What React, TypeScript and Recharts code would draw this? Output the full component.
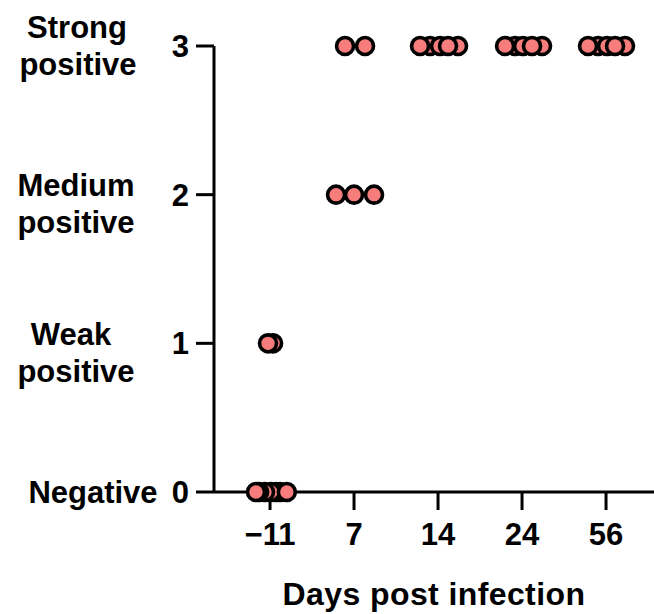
import { Scatter, ScatterChart, XAxis, YAxis } from "recharts";

// categories on the x axis (days post infection)
const days = ["\u221211", "7", "14", "24", "56"];

// score labels for the y axis, one entry per score 0..3
const scoreLabels = [["Negative"], ["Weak", "positive"], ["Medium", "positive"], ["Strong", "positive"]];
const scoreTicks = [0, 1, 2, 3];

// each animal: [day index, horizontal jitter, score]
const dayMinus11 = [
  [0, 0.12, 0],
  [0, 0.07, 0],
  [0, 0.01, 0],
  [0, -0.06, 0],
  [0, -0.13, 0],
  [0, -0.167, 0],
  [0, 0.2, 0],
  [0, 0.036, 1],
  [0, -0.024, 1],
];
const day7 = [
  [1, -0.107, 3],
  [1, 0.131, 3],
  [1, -0.214, 2],
  [1, 0, 2],
  [1, 0.238, 2],
];
const day14 = [
  [2, -0.095, 3],
  [2, 0.238, 3],
  [2, 0.024, 3],
  [2, -0.214, 3],
  [2, 0.119, 3],
];
const day24 = [
  [3, -0.083, 3],
  [3, 0.238, 3],
  [3, 0.012, 3],
  [3, -0.202, 3],
  [3, 0.119, 3],
];
const day56 = [
  [4, -0.095, 3],
  [4, 0.226, 3],
  [4, 0.012, 3],
  [4, -0.214, 3],
  [4, 0.107, 3],
];

const points = [...dayMinus11, ...day7, ...day14, ...day24, ...day56].map(([d, j, s]) => ({
  x: d + j,
  y: s,
}));

const FONT = '"Liberation Sans", Arial, sans-serif';

// horizontal centre and baseline offsets (px from tick) for each line of the y labels
const labelLayout: Record<number, { cx: number[]; dys: number[] }> = {
  0: { cx: [93], dys: [11] },
  1: { cx: [71, 76], dys: [2, 39] },
  2: { cx: [76, 76], dys: [1, 38] },
  3: { cx: [77, 78], dys: [-8, 29] },
};

function YTick(props: any) {
  const { y, payload } = props;
  const v = payload.value as number;
  const lay = labelLayout[v];
  const lines = scoreLabels[v];
  return (
    <g fontFamily={FONT} fontWeight="bold" fontSize={31} fill="#000">
      <text x={189} y={y + 11} textAnchor="end">
        {v}
      </text>
      {lines.map((l, i) => (
        <text key={i} x={lay.cx[i]} y={y + lay.dys[i]} textAnchor="middle">
          {l}
        </text>
      ))}
    </g>
  );
}

function XTick(props: any) {
  const { x, y, payload } = props;
  return (
    <text x={x} y={y + 33} textAnchor="middle" fontFamily={FONT} fontWeight="bold" fontSize={31} fill="#000">
      {days[payload.value]}
    </text>
  );
}

function Dot(props: any) {
  return <circle cx={props.cx} cy={props.cy} r={8.5} fill="#F77C7C" stroke="#000" strokeWidth={3.6} />;
}

export default function App() {
  return (
    <div style={{ position: "absolute", left: 0, top: 0, background: "#fff" }}>
      <ScatterChart width={654} height={614} margin={{ top: 46, right: 0, bottom: 0, left: 0 }}>
        <XAxis
          type="number"
          dataKey="x"
          domain={[-0.667, 4.571]}
          ticks={[0, 1, 2, 3, 4]}
          allowDataOverflow
          height={122}
          tickSize={18}
          tick={<XTick />}
          axisLine={{ stroke: "#000", strokeWidth: 3 }}
          tickLine={{ stroke: "#000", strokeWidth: 3 }}
          label={{
            value: "Days post infection",
            position: "insideBottom",
            offset: 9,
            fill: "#000",
            fontSize: 32,
            fontWeight: "bold",
            fontFamily: FONT,
            letterSpacing: 0.4,
          }}
        />
        <YAxis
          type="number"
          dataKey="y"
          domain={[0, 3]}
          ticks={scoreTicks}
          width={214}
          tickSize={18}
          tick={<YTick />}
          axisLine={{ stroke: "#000", strokeWidth: 3 }}
          tickLine={{ stroke: "#000", strokeWidth: 3 }}
        />
        <Scatter data={points} shape={<Dot />} isAnimationActive={false} />
      </ScatterChart>
    </div>
  );
}
